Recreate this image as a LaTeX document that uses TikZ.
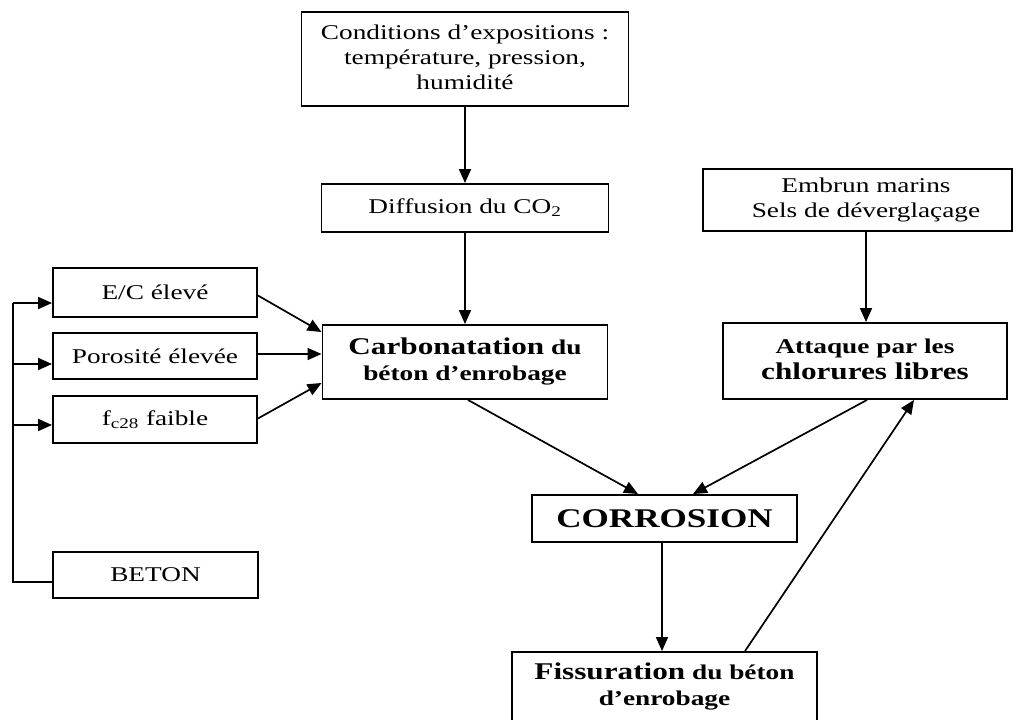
\documentclass[tikz,border=0pt]{standalone}
\usepackage{fontspec}
\setmainfont{Liberation Serif}
\usepackage{graphicx}
\usetikzlibrary{arrows.meta}
\newcommand{\sx}[1]{\scalebox{1.3}[1]{#1}}
\newcommand{\ml}[1]{\sx{\begin{tabular}{@{}c@{}}#1\end{tabular}}}
\begin{document}
\begin{tikzpicture}[x=1pt,y=-1pt,
  box/.style={draw, line width=1.9pt, inner sep=0pt},
  arr/.style={line width=1.7pt, -{Triangle[length=14pt,width=12pt]}},
  ln/.style={line width=1.7pt},
  reg/.style={font=\fontsize{21}{25}\selectfont},
  bld/.style={font=\fontsize{21}{26}\selectfont\bfseries}]
\clip (0,0) rectangle (1021,720);

% boxes
\node[box, reg, minimum width=327pt, minimum height=94pt] (cond) at (465,59)
  {\ml{Conditions d’expositions :\\ température, pression,\\ humidité}};
\node[box, reg, minimum width=287pt, minimum height=48pt] (diff) at (465,208)
  {\sx{Diffusion du CO\textsubscript{2}}};
\node[box, reg, minimum width=309pt, minimum height=62pt] (emb) at (857.5,200)
  {\hspace*{17pt}\ml{Embrun marins\\ Sels de déverglaçage}};
\node[box, bld, minimum width=284pt, minimum height=76pt] (att) at (865,361)
  {\ml{Attaque par les\\ {\fontsize{24}{26}\selectfont chlorures libres}}};
\node[box, bld, minimum width=285pt, minimum height=74pt] (carb) at (465,362)
  {\ml{{\fontsize{24}{26}\selectfont Carbonatation} du\\ béton d’enrobage}};
\node[box, reg, minimum width=204pt, minimum height=49pt] (ec) at (155,292.5)
  {\sx{E/C élevé}};
\node[box, reg, minimum width=204pt, minimum height=46pt] (por) at (155,356)
  {\sx{Porosité élevée}};
\node[box, reg, minimum width=204pt, minimum height=47pt] (fc) at (155,419.5)
  {\sx{f\textsubscript{c28} faible}};
\node[box, reg, minimum width=205pt, minimum height=46pt] (beton) at (155.5,575)
  {\sx{BETON}};
\node[box, font=\fontsize{27}{30}\selectfont\bfseries, minimum width=265pt, minimum height=47pt] (corr) at (664.5,518.5)
  {\sx{CORROSION}};
\node[box, minimum width=305pt, minimum height=88pt] (fisbox) at (664.5,696) {};
\node[bld, inner sep=0pt] (fis) at (664.5,687)
  {\ml{{\fontsize{24}{29}\selectfont Fissuration} du béton\\ d’enrobage}};

% left spine
\coordinate (s1) at (13,303);
\coordinate (s2) at (13,364);
\coordinate (s3) at (13,425);
\coordinate (s4) at (13,582);
\draw[ln] ([yshift=-7pt]beton.west) -- (s4) -- (s1);
\draw[arr] (s1) -- ([yshift=-10.5pt]ec.west);
\draw[arr] (s2) -- ([yshift=-8pt]por.west);
\draw[arr] (s3) -- ([yshift=-5.5pt]fc.west);

% into carbonatation
\draw[arr] ([yshift=-3pt]ec.east) -- ([yshift=-8pt]carb.north west);
\draw[arr] ([yshift=2pt]por.east) -- ([yshift=2pt]carb.west |- por.east);
\draw[arr] ([yshift=1pt]fc.east) -- ([yshift=17pt]carb.south west);

% vertical flows
\draw[arr] (cond.south) -- (diff.north);
\draw[arr] (diff.south) -- (carb.north);
\draw[arr] ([xshift=8.5pt]emb.south) -- ([xshift=1pt]att.north);

% into corrosion
\draw[arr] ([xshift=3pt]carb.south) -- ([xshift=-26.5pt]corr.north);
\draw[arr] ([xshift=2pt]att.south) -- ([xshift=28.5pt]corr.north);
\draw[arr] ([xshift=-2.5pt]corr.south) -- ([xshift=-2.5pt]fisbox.north);
\draw[arr] ([xshift=80.5pt]fisbox.north) -- ([xshift=49pt]att.south);
\end{tikzpicture}
\end{document}
